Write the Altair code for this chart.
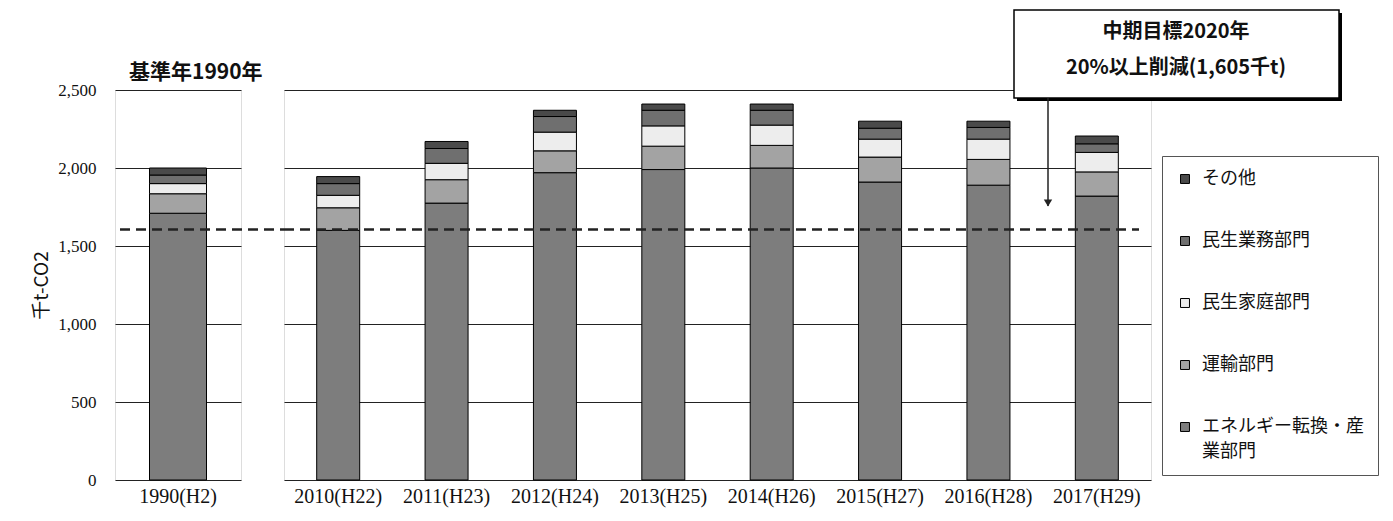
import altair as alt
import pandas as pd

years = ["1990(H2)", "2010(H22)", "2011(H23)", "2012(H24)", "2013(H25)",
         "2014(H26)", "2015(H27)", "2016(H28)", "2017(H29)"]
# legend order (top -> bottom)
sectors = ["その他", "民生業務部門", "民生家庭部門", "運輸部門", "エネルギー転換・産業部門"]
industry = [1710, 1600, 1775, 1970, 1990, 2000, 1910, 1890, 1820]
transport = [125, 145, 150, 140, 150, 145, 160, 165, 155]
household = [65, 80, 105, 120, 130, 130, 115, 130, 125]
business = [55, 75, 95, 100, 100, 95, 70, 75, 55]
other = [45, 45, 45, 40, 40, 40, 45, 40, 50]
target = 1605
y_ticks = [0, 500, 1000, 1500, 2000, 2500]
fills = ["#4a4a4a", "#6f6f6f", "#ededed", "#a3a3a3", "#7d7d7d"]

series = {
    "エネルギー転換・産業部門": industry,
    "運輸部門": transport,
    "民生家庭部門": household,
    "民生業務部門": business,
    "その他": other,
}
rows = []
for i, yr in enumerate(years):
    for k, (name, vals) in enumerate(series.items()):
        rows.append({"year": yr, "sector": name, "value": vals[i], "stack": k,
                     "panel": "base" if i == 0 else "recent"})
df = pd.DataFrame(rows)
tdf = pd.DataFrame({"t": [target]})

SERIF = "Liberation Serif"
JP = "Noto Sans CJK JP"

color = alt.Color(
    "sector:N",
    scale=alt.Scale(domain=sectors, range=fills),
    legend=alt.Legend(
        title=None, orient="none", legendX=1047, legendY=66,
        strokeColor="#555", fillColor="white", padding=14,
        symbolType="square", symbolSize=80, symbolStrokeColor="black",
        symbolStrokeWidth=1, labelFont=JP, labelFontSize=18, labelColor="#111",
        labelLimit=400, rowPadding=44, labelOffset=8,
        labelExpr="datum.label == 'エネルギー転換・産業部門' ? ['エネルギー転換・産', '業部門'] : datum.label",
    ),
)

yscale = alt.Scale(domain=[0, 2500], nice=False)
xaxis = alt.Axis(title=None, labelAngle=0, ticks=False, domain=False,
                 labelFont=SERIF, labelFontSize=20, labelPadding=6, labelColor="#111")

left_bars = alt.Chart(df[df.panel == "base"]).mark_bar(size=57, stroke="black", strokeWidth=1).encode(
    x=alt.X("year:N", sort=years, axis=xaxis),
    y=alt.Y("value:Q", stack="zero", scale=yscale,
            axis=alt.Axis(values=y_ticks, format=",d", title="千t-CO2", titleFont=JP,
                          titleFontSize=19, titleFontWeight="normal", titlePadding=6,
                          titleColor="#111", labelFont=SERIF, labelFontSize=17,
                          labelColor="#111", labelPadding=19, ticks=False, domain=False,
                          grid=True, gridColor="#222", gridWidth=1)),
    color=color,
    order=alt.Order("stack:Q"),
)
left_rule = alt.Chart(tdf).mark_rule(strokeDash=[10, 6], strokeWidth=2.5, color="#222").encode(
    y=alt.Y("t:Q", scale=yscale), x=alt.value(5), x2=alt.value(169))
left_title = alt.Chart(tdf).mark_text(text="基準年1990年", font=JP, fontSize=21, fontWeight="bold",
                                      align="left", baseline="middle", color="#111").encode(
    x=alt.value(14), y=alt.value(-17))
left = alt.layer(left_bars, left_rule, left_title).properties(width=126, height=390)

right_bars = alt.Chart(df[df.panel == "recent"]).mark_bar(size=43, stroke="black", strokeWidth=1).encode(
    x=alt.X("year:N", sort=years[1:], axis=xaxis,
            scale=alt.Scale(paddingInner=0.6, paddingOuter=0.3)),
    y=alt.Y("value:Q", stack="zero", scale=yscale,
            axis=alt.Axis(values=y_ticks, labels=False, ticks=False, domain=False, title=None,
                          grid=True, gridColor="#222", gridWidth=1)),
    color=color,
    order=alt.Order("stack:Q"),
)
right_rule = alt.Chart(tdf).mark_rule(strokeDash=[10, 6], strokeWidth=2.5, color="#222").encode(
    y=alt.Y("t:Q", scale=yscale), x=alt.value(0), x2=alt.value(855))
shadow = alt.Chart(tdf).mark_rect(fill="black").encode(
    x=alt.value(733), x2=alt.value(1058), y=alt.value(-77), y2=alt.value(11))
box = alt.Chart(tdf).mark_rect(fill="white", stroke="black", strokeWidth=1.5).encode(
    x=alt.value(730), x2=alt.value(1055), y=alt.value(-80), y2=alt.value(8))
line1 = alt.Chart(tdf).mark_text(text="中期目標2020年", font=JP, fontSize=20, fontWeight="bold",
                                 align="center", baseline="middle", color="#111").encode(
    x=alt.value(892), y=alt.value(-58))
line2 = alt.Chart(tdf).mark_text(text="20%以上削減(1,605千t)", font=JP, fontSize=20, fontWeight="bold",
                                 align="center", baseline="middle", color="#111").encode(
    x=alt.value(892), y=alt.value(-22))
arrow = alt.Chart(tdf).mark_rule(color="#222", strokeWidth=1.5).encode(
    x=alt.value(764), y=alt.value(8), y2=alt.value(116))
head = alt.Chart(tdf).mark_point(shape="triangle-down", filled=True, size=70, color="#222", opacity=1).encode(
    x=alt.value(764), y=alt.value(113))
right = alt.layer(right_bars, right_rule, shadow, box, line1, line2, arrow, head).properties(
    width=867, height=390)

chart = alt.hconcat(left, right, spacing=43, bounds="flush").properties(
    padding={"left": 24, "top": 0, "right": 5, "bottom": 5},
    background="white",
).configure_view(stroke="black", strokeWidth=1.5).configure(
    style={"guide-label": {"lineHeight": 25}}
)

chart.save("out.html", embed_options={"renderer": "svg", "actions": False})
